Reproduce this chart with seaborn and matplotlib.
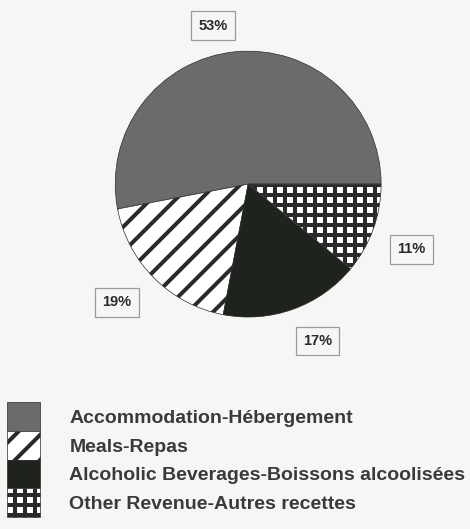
import numpy as np
import matplotlib
matplotlib.use("Agg")
import matplotlib.pyplot as plt
import matplotlib.hatch as mhatch
import matplotlib.patches as mpatches
from matplotlib.legend_handler import HandlerPatch
import seaborn as sns

# data
categories = ['Accommodation-Hébergement', 'Meals-Repas',
              'Alcoholic Beverages-Boissons alcoolisées', 'Other Revenue-Autres recettes']
shares = [53, 19, 17, 11]

# styles
colors = ['#6b6c6a', 'white', '#1e231e', 'white']
hatches = ['', '/', '', '+']
label_nudge = [7, -3, 4, -2]          # degrees, label offset from the wedge middle
label_dist = [1.22, 1.33, 1.29, 1.32]  # in pie radii

# wider hatch spacing than matplotlib's default (lines per inch)
_get_path = mhatch.get_path
hatch_density = {'/': 8, '+': 10}
def get_path(pattern, density=6):
    return _get_path(pattern, hatch_density.get(pattern, density))
mhatch.get_path = get_path

# legend swatches a bit taller than the text row
def tall_patch(legend, orig_handle, xdescent, ydescent, width, height, fontsize):
    return mpatches.Rectangle((-xdescent, -ydescent - 2), width, height + 4)

sns.set_theme(style='white')
plt.rcParams['font.family'] = ['Liberation Sans', 'DejaVu Sans']
plt.rcParams['hatch.linewidth'] = 2.9

bg = '#f6f6f4'
fig = plt.figure(figsize=(4.70, 5.29), dpi=100, facecolor=bg)
ax = fig.add_axes([0.132, 0.300, 0.792, 0.704])
ax.set_facecolor(bg)

wedges, texts = ax.pie(
    shares, colors=colors, startangle=0, counterclock=True,
    wedgeprops=dict(edgecolor='#2a2a2a', linewidth=0.5))
for w, h in zip(wedges, hatches):
    w.set_hatch(h)

# boxed percentage labels
for w, v, nudge, dist in zip(wedges, shares, label_nudge, label_dist):
    ang = np.deg2rad((w.theta1 + w.theta2) / 2 + nudge)
    ax.text(dist * np.cos(ang), dist * np.sin(ang), f'{v}%', ha='center', va='center',
            fontsize=10.5, fontweight='bold', color='#2a2a2a',
            bbox=dict(boxstyle='square,pad=0.5', facecolor=bg, edgecolor='#9a9a9a', linewidth=0.9))

ax.set_xlim(-1.4, 1.4)
ax.set_ylim(-1.4, 1.4)
ax.set_aspect('equal')
ax.axis('off')

fig.legend(wedges, categories, loc='upper left', bbox_to_anchor=(0.015, 0.234),
           frameon=False, borderpad=0, borderaxespad=0,
           prop=dict(size=14, weight='bold'), labelcolor='#3a3a3a',
           handler_map={mpatches.Wedge: HandlerPatch(patch_func=tall_patch)},
           handlelength=1.7, handleheight=1.45, handletextpad=1.5, labelspacing=0.28)

fig.savefig('out.png', dpi=100, facecolor=bg)
